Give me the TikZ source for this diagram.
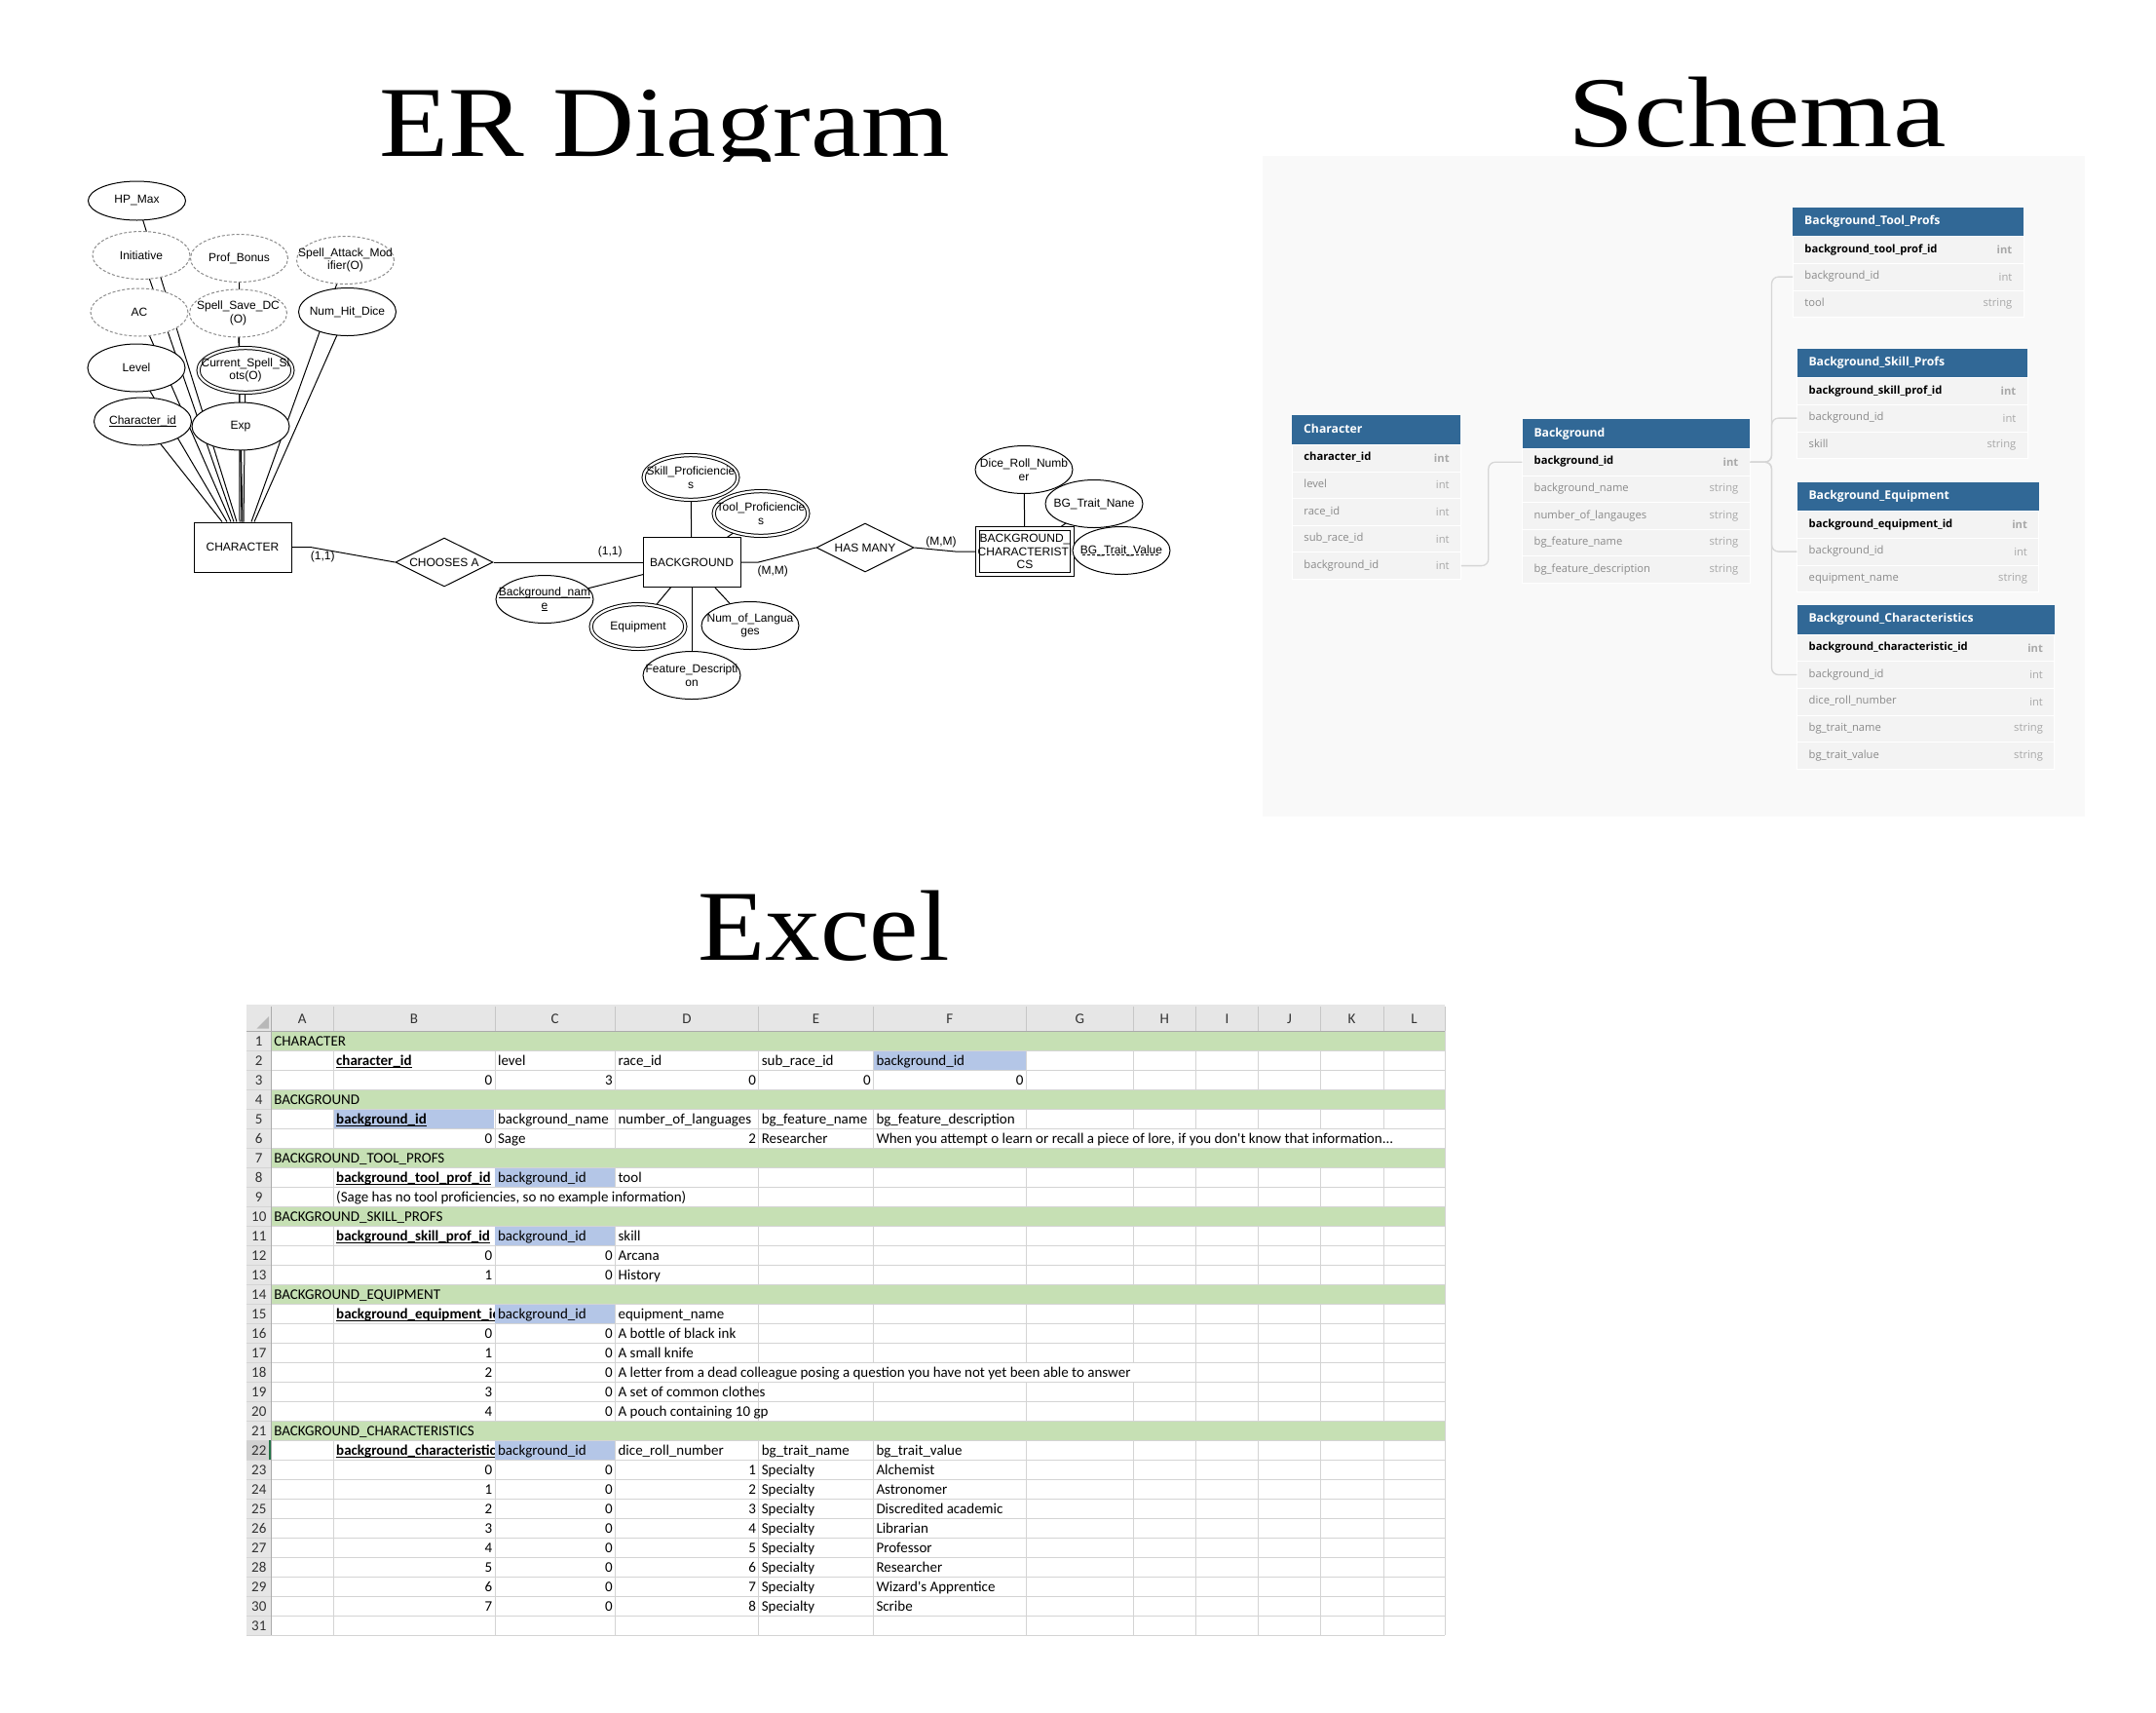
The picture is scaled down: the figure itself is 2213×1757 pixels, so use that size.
\documentclass[tikz,border=0pt]{standalone}
\usepackage{fontspec}
\setmainfont{Liberation Serif}
\newfontfamily\erfont{Liberation Sans}
\newfontfamily\dbfont{Open Sans}
\newfontfamily\xlfont{Carlito}
\usetikzlibrary{shapes.geometric}

\newsavebox\ulbox
\newcommand{\xul}[1]{\sbox\ulbox{#1}\rlap{\rule[-2pt]{\wd\ulbox}{1pt}}\usebox\ulbox}
\newcommand{\dxul}[1]{\sbox\ulbox{#1}\rlap{\hbox to \wd\ulbox{\cleaders\hbox{\rule[-2pt]{3pt}{1pt}\hspace{2pt}}\hfill}}\usebox\ulbox}

\definecolor{hdrblue}{HTML}{316896}
\definecolor{dbpanel}{HTML}{F9F9F9}
\definecolor{dbrow}{HTML}{F3F3F3}
\definecolor{dbfield}{HTML}{8A8A8A}
\definecolor{dbtype}{HTML}{A8A8A8}
\definecolor{dblinegray}{HTML}{D6D6D6}
\definecolor{xlgreen}{HTML}{C6E0B4}
\definecolor{xlblue}{HTML}{B4C6E7}
\definecolor{xlgrid}{HTML}{D4D4D4}
\definecolor{xlhead}{HTML}{E6E6E6}
\definecolor{xledge}{HTML}{ABABAB}
\definecolor{xlsel}{HTML}{217346}

\pgfdeclarelayer{bg}
\pgfsetlayers{bg,main}

\begin{document}
\begin{tikzpicture}[x=1pt, y=-1pt, line width=1pt,
  title/.style={anchor=base west, inner sep=0, font=\fontsize{103}{110}\selectfont},
  % ER diagram
  ertext/.style={font=\erfont\fontsize{12}{13.5}\selectfont},
  attr/.style={ellipse, draw, fill=white, minimum width=100, minimum height=49, inner sep=0},
  dattr/.style={attr, draw=black!45, dash pattern=on 3pt off 2pt},
  mattr/.style={attr, double, double distance=2.2, minimum width=96.8, minimum height=45.8},
  entity/.style={rectangle, draw, fill=white, minimum width=100, minimum height=51, inner sep=0, align=center, ertext},
  weak/.style={entity, double, double distance=3.2, minimum width=95.8, minimum height=46.5, outer sep=2.6},
  rel/.style={diamond, aspect=2, draw, fill=white, minimum width=100, minimum height=50, inner sep=0, ertext},
  card/.style={inner sep=0, ertext},
  every label/.style={inner sep=0, align=center, ertext},
  % schema
  tablehead/.style={anchor=north west, fill=hdrblue, text=white, inner xsep=12, inner ysep=0, minimum height=30, text width=#1, align=left, font=\dbfont\bfseries\fontsize{12.2}{14}\selectfont, text height=9, text depth=3},
  tablerow/.style={anchor=north west, fill=dbrow, draw=white, line width=0.8, text=dbfield, inner xsep=12, inner ysep=0, minimum height=27.6, text width=#1, align=left, font=\dbfont\fontsize{11.2}{13}\selectfont, text height=8.5, text depth=3},
  keyrow/.style={tablerow=#1, text=black, font=\dbfont\bfseries\fontsize{11.2}{13}\selectfont},
  coltype/.style={anchor=east, inner sep=0, text=dbtype, font=\dbfont\fontsize{11.2}{13}\selectfont},
  keytype/.style={coltype, font=\dbfont\bfseries\fontsize{11.2}{13}\selectfont},
  dblink/.style={draw=dblinegray, line width=1.3, rounded corners=7},
  % excel
  xl/.style={anchor=base west, inner sep=0, font=\xlfont\fontsize{15}{17}\selectfont},
  xlnum/.style={xl, anchor=base east},
  xlkey/.style={xl, font=\xlfont\bfseries\fontsize{15}{17}\selectfont},
  xlhd/.style={inner sep=0, text=black!80, font=\xlfont\fontsize{15}{17}\selectfont}
]
\useasboundingbox (0,0) rectangle (2213,1757);

% ---------------- titles
\begin{scope}
  \clip (370,60) rectangle (1010,165);
  \begin{scope}[shift={(389,160)}]
    \node[title, xscale=1.13] (ertitle) at (0,0) {ER Diagram};
  \end{scope}
\end{scope}
\begin{scope}[shift={(1609,150.7)}]
  \node[title, xscale=1.19] (schematitle) at (0,0) {Schema};
\end{scope}
\begin{scope}[shift={(716,985)}]
  \node[title, xscale=1.10] (exceltitle) at (0,0) {Excel};
\end{scope}

% ---------------- ER diagram
\node[entity] (character) at (249,561.5) {CHARACTER};
\node[attr, minimum height=40, label={center:HP\_Max}] (hpmax) at (140.5,206) {};
\node[dattr, label={center:Initiative}] (initiative) at (145,262) {};
\node[dattr, label={center:Prof\_Bonus}] (profbonus) at (245.5,265) {};
\node[dattr, label={center:{Spell\_Attack\_Mod\\ifier(O)}}] (spellatk) at (354.5,267) {};
\node[dattr, label={center:AC}] (ac) at (143,320.5) {};
\node[dattr, label={center:{Spell\_Save\_DC\\(O)}}] (spellsave) at (244.5,321.5) {};
\node[attr, label={center:Num\_Hit\_Dice}] (numhit) at (356.5,320) {};
\node[attr, label={center:Level}] (level) at (140,377.5) {};
\node[mattr, label={center:{Current\_Spell\_Sl\\ots(O)}}] (slots) at (252,380) {};
\node[attr, label={center:\xul{Character\_id}}] (charid) at (146.5,432.5) {};
\node[attr, label={center:Exp}] (exp) at (247,437.5) {};

\node[rel] (chooses) at (456,577) {CHOOSES A};
\node[entity] (background) at (710,577) {BACKGROUND};
\draw (character.east) -- ++(19,0) -- (chooses.west);
\draw (chooses.east) -- (background.west);
\node[card] (card1) at (331.3,571.7) {(1,1)};
\node[card] (card2) at (626.3,566.7) {(1,1)};

\node[mattr, label={center:{Skill\_Proficiencie\\s}}] (skillprof) at (709,490) {};
\node[mattr, label={center:{Tool\_Proficiencie\\s}}] (toolprof) at (781,527) {};
\node[attr, label={center:{\xul{Background\_nam}\\\xul{e}}}] (bgname) at (559,615) {};
\node[mattr, label={center:Equipment}] (equipment) at (655,643) {};
\node[attr, label={center:{Num\_of\_Langua\\ges}}] (numlang) at (770,642) {};
\node[attr, label={center:{Feature\_Descripti\\on}}] (featdesc) at (710,693) {};

\node[rel] (hasmany) at (888,562) {HAS MANY};
\node[weak] (bgchar) at (1052,566) {BACKGROUND\_\\CHARACTERISTI\\CS};
\draw (background.east) -- ++(18,0) -- (hasmany.west);
\draw (hasmany.east) -- ++(42,4) -- (bgchar.west);
\node[card] (card3) at (793.3,586) {(M,M)};
\node[card] (card4) at (966,556) {(M,M)};
\node[attr, label={center:{Dice\_Roll\_Numb\\er}}] (diceroll) at (1051,482) {};
\node[attr, label={center:BG\_Trait\_Nane}] (traitname) at (1123,517) {};
\node[attr, label={center:\dxul{BG\_Trait\_Value}}] (traitvalue) at (1151,565) {};

\begin{pgfonlayer}{bg}
  \fill[white] (0,0) rectangle (2213,1757);
  \begin{scope}[line width=1pt, draw=black]
    \foreach \a/\s in {charid/-21, level/-16, ac/-12, initiative/-9, hpmax/-6, profbonus/-3, spellsave/-1, slots/1, exp/0, spellatk/9, numhit/12}
      \draw (\a.center) -- ([xshift=\s]character.north);
    \foreach \a in {skillprof, toolprof, bgname, equipment, numlang, featdesc}
      \draw (\a.center) -- (background.center);
    \foreach \a in {diceroll, traitname, traitvalue}
      \draw (\a.center) -- (bgchar.center);
  \end{scope}
\end{pgfonlayer}

% ---------------- schema
\fill[dbpanel] (1295.7,160) rectangle (2139.5,838);

\node[tablehead=149] (tchar) at (1326,426) {Character};
\node[keyrow=149] (char1) at (1326,456) {character\_id};
\node[keytype] (char1-t) at ([xshift=-12]char1.east) {int};
\foreach \fld/\ty [count=\i from 2] in {level/int, race\_id/int, sub\_race\_id/int, background\_id/int} {
  \node[tablerow=149] (char\i) at (1326,{456+27.6*(\i-1)}) {\fld};
  \node[coltype] (char\i-t) at ([xshift=-12]char\i.east) {\ty};
}

\node[tablehead=209.4] (tbg) at (1562.3,430) {Background};
\node[keyrow=209.4] (bg1) at (1562.3,460) {background\_id};
\node[keytype] (bg1-t) at ([xshift=-12]bg1.east) {int};
\foreach \fld/\ty [count=\i from 2] in {background\_name/string, number\_of\_langauges/string, bg\_feature\_name/string, bg\_feature\_description/string} {
  \node[tablerow=209.4] (bg\i) at (1562.3,{460+27.6*(\i-1)}) {\fld};
  \node[coltype] (bg\i-t) at ([xshift=-12]bg\i.east) {\ty};
}

\node[tablehead=212.7] (ttool) at (1840,212.3) {Background\_Tool\_Profs};
\node[keyrow=212.7] (tool1) at (1840,242.3) {background\_tool\_prof\_id};
\node[keytype] (tool1-t) at ([xshift=-12]tool1.east) {int};
\foreach \fld/\ty [count=\i from 2] in {background\_id/int, tool/string} {
  \node[tablerow=212.7] (tool\i) at (1840,{242.3+27.6*(\i-1)}) {\fld};
  \node[coltype] (tool\i-t) at ([xshift=-12]tool\i.east) {\ty};
}

\node[tablehead=212.4] (tskill) at (1844.3,357.3) {Background\_Skill\_Profs};
\node[keyrow=212.4] (skill1) at (1844.3,387.3) {background\_skill\_prof\_id};
\node[keytype] (skill1-t) at ([xshift=-12]skill1.east) {int};
\foreach \fld/\ty [count=\i from 2] in {background\_id/int, skill/string} {
  \node[tablerow=212.4] (skill\i) at (1844.3,{387.3+27.6*(\i-1)}) {\fld};
  \node[coltype] (skill\i-t) at ([xshift=-12]skill\i.east) {\ty};
}

\node[tablehead=224] (tequip) at (1844.3,494.3) {Background\_Equipment};
\node[keyrow=224] (equip1) at (1844.3,524.3) {background\_equipment\_id};
\node[keytype] (equip1-t) at ([xshift=-12]equip1.east) {int};
\foreach \fld/\ty [count=\i from 2] in {background\_id/int, equipment\_name/string} {
  \node[tablerow=224] (equip\i) at (1844.3,{524.3+27.6*(\i-1)}) {\fld};
  \node[coltype] (equip\i-t) at ([xshift=-12]equip\i.east) {\ty};
}

\node[tablehead=240] (tbchar) at (1844.3,620.7) {Background\_Characteristics};
\node[keyrow=240] (bchar1) at (1844.3,650.7) {background\_characteristic\_id};
\node[keytype] (bchar1-t) at ([xshift=-12]bchar1.east) {int};
\foreach \fld/\ty [count=\i from 2] in {background\_id/int, dice\_roll\_number/int, bg\_trait\_name/string, bg\_trait\_value/string} {
  \node[tablerow=240] (bchar\i) at (1844.3,{650.7+27.6*(\i-1)}) {\fld};
  \node[coltype] (bchar\i-t) at ([xshift=-12]bchar\i.east) {\ty};
}

\draw[dblink] (char5.east) -- ++(28,0) |- (bg1.west);
\foreach \t in {tool2, skill2, equip2, bchar2}
  \draw[dblink] (bg1.east) -- ++(22,0) |- (\t.west);

% ---------------- excel
\fill[xlhead] (253.3,1031) rectangle (1483.1,1058.3);
\fill[xlhead] (253.3,1058.3) rectangle (278.2,1678.3);
\fill[black!28] (276,1043) -- (276,1055.5) -- (263.5,1055.5) -- cycle;
\foreach \x in {342,507.9,631.4,778.6,896.3,1053.2,1163.3,1227.5,1291.3,1355.5,1419.7,1483.1} {
  \draw[xlgrid] (\x,1058.3) -- (\x,1678.3);
  \draw[black!22] (\x,1033) -- (\x,1058.3);
}
\foreach \r in {1,...,31}
  \draw[xlgrid] (253.3,{1058.3+20*\r}) -- (1483.1,{1058.3+20*\r});
\draw[xledge] (253.3,1058.3) -- (1483.1,1058.3);
\draw[xledge] (278.2,1033) -- (278.2,1678.3);

% cells whose text runs over the next ones
\fill[white] (1000,1158.9) rectangle (1436,1177.7);
\fill[white] (400,1218.9) rectangle (715,1237.7);
\fill[white] (700,1398.9) rectangle (1170,1417.7);

\foreach \r in {1,4,7,10,14,21}
  \fill[xlgreen] (278.7,{1038.8+20*\r}) rectangle (1483.1,{1057.8+20*\r});
\fill[xlblue] (896.8,1078.8) rectangle (1052.7,1097.8);
\fill[xlblue] (342.5,1138.8) rectangle (507.4,1157.8);
\foreach \r in {8,11,15,22}
  \fill[xlblue] (508.4,{1038.8+20*\r}) rectangle (630.9,{1057.8+20*\r});
\fill[black!18] (253.3,1478.8) rectangle (277.7,1497.8);
\draw[xlsel, line width=2] (277.2,1478.3) -- (277.2,1498.3);

\foreach \l/\c in {A/310.1, B/424.95, C/569.65, D/705, E/837.45, F/974.75, G/1108.25, H/1195.4, I/1259.4, J/1323.4, K/1387.6, L/1451.4}
  \node[xlhd] (col\l) at (\c,1045.5) {\l};
\foreach \r in {1,...,31}
  \node[xlhd, anchor=base] (row\r) at (265.75,{1053.8+20*\r}) {\r};

\node[xl] (a1) at (281.2,1073.8) {CHARACTER};
\node[xlkey] (b2) at (345,1093.8) {\xul{character\_id}};
\node[xl] (c2) at (510.9,1093.8) {level};
\node[xl] (d2) at (634.4,1093.8) {race\_id};
\node[xl] (e2) at (781.6,1093.8) {sub\_race\_id};
\node[xl] (f2) at (899.3,1093.8) {background\_id};
\node[xlnum] (b3) at (505.4,1113.8) {0};
\node[xlnum] (c3) at (628.9,1113.8) {3};
\node[xlnum] (d3) at (776.1,1113.8) {0};
\node[xlnum] (e3) at (893.8,1113.8) {0};
\node[xlnum] (f3) at (1050.7,1113.8) {0};

\node[xl] (a4) at (281.2,1133.8) {BACKGROUND};
\node[xlkey] (b5) at (345,1153.8) {\xul{background\_id}};
\node[xl] (c5) at (510.9,1153.8) {background\_name};
\node[xl] (d5) at (634.4,1153.8) {number\_of\_languages};
\node[xl] (e5) at (781.6,1153.8) {bg\_feature\_name};
\node[xl] (f5) at (899.3,1153.8) {bg\_feature\_description};
\node[xlnum] (b6) at (505.4,1173.8) {0};
\node[xl] (c6) at (510.9,1173.8) {Sage};
\node[xlnum] (d6) at (776.1,1173.8) {2};
\node[xl] (e6) at (781.6,1173.8) {Researcher};
\node[xl] (f6) at (899.3,1173.8) {When you attempt o learn or recall a piece of lore, if you don't know that information...};

\node[xl] (a7) at (281.2,1193.8) {BACKGROUND\_TOOL\_PROFS};
\node[xlkey] (b8) at (345,1213.8) {\xul{background\_tool\_prof\_id}};
\node[xl] (c8) at (510.9,1213.8) {background\_id};
\node[xl] (d8) at (634.4,1213.8) {tool};
\node[xl] (b9) at (345,1233.8) {(Sage has no tool proficiencies, so no example information)};

\node[xl] (a10) at (281.2,1253.8) {BACKGROUND\_SKILL\_PROFS};
\node[xlkey] (b11) at (345,1273.8) {\xul{background\_skill\_prof\_id}};
\node[xl] (c11) at (510.9,1273.8) {background\_id};
\node[xl] (d11) at (634.4,1273.8) {skill};
\foreach \t [count=\i from 0, evaluate=\i as \r using int(12+\i)] in {Arcana, History} {
  \node[xlnum] (b\r) at (505.4,{1053.8+20*\r}) {\i};
  \node[xlnum] (c\r) at (628.9,{1053.8+20*\r}) {0};
  \node[xl] (d\r) at (634.4,{1053.8+20*\r}) {\t};
}

\node[xl] (a14) at (281.2,1333.8) {BACKGROUND\_EQUIPMENT};
\begin{scope}
  \clip (342,1338.3) rectangle (507.9,1358.3);
  \node[xlkey] (b15) at (345,1353.8) {\xul{background\_equipment\_id}};
\end{scope}
\node[xl] (c15) at (510.9,1353.8) {background\_id};
\node[xl] (d15) at (634.4,1353.8) {equipment\_name};
\foreach \t [count=\i from 0, evaluate=\i as \r using int(16+\i)] in {A bottle of black ink, A small knife, A letter from a dead colleague posing a question you have not yet been able to answer, A set of common clothes, A pouch containing 10 gp} {
  \node[xlnum] (b\r) at (505.4,{1053.8+20*\r}) {\i};
  \node[xlnum] (c\r) at (628.9,{1053.8+20*\r}) {0};
  \node[xl] (d\r) at (634.4,{1053.8+20*\r}) {\t};
}

\node[xl] (a21) at (281.2,1473.8) {BACKGROUND\_CHARACTERISTICS};
\begin{scope}
  \clip (342,1478.3) rectangle (507.9,1498.3);
  \node[xlkey] (b22) at (345,1493.8) {\xul{background\_characteristics\_id}};
\end{scope}
\node[xl] (c22) at (510.9,1493.8) {background\_id};
\node[xl] (d22) at (634.4,1493.8) {dice\_roll\_number};
\node[xl] (e22) at (781.6,1493.8) {bg\_trait\_name};
\node[xl] (f22) at (899.3,1493.8) {bg\_trait\_value};
\foreach \t [count=\i from 0, evaluate=\i as \r using int(23+\i), evaluate=\i as \d using int(\i+1)] in {Alchemist, Astronomer, Discredited academic, Librarian, Professor, Researcher, Wizard's Apprentice, Scribe} {
  \node[xlnum] (b\r) at (505.4,{1053.8+20*\r}) {\i};
  \node[xlnum] (c\r) at (628.9,{1053.8+20*\r}) {0};
  \node[xlnum] (d\r) at (776.1,{1053.8+20*\r}) {\d};
  \node[xl] (e\r) at (781.6,{1053.8+20*\r}) {Specialty};
  \node[xl] (f\r) at (899.3,{1053.8+20*\r}) {\t};
}
\end{tikzpicture}
\end{document}
